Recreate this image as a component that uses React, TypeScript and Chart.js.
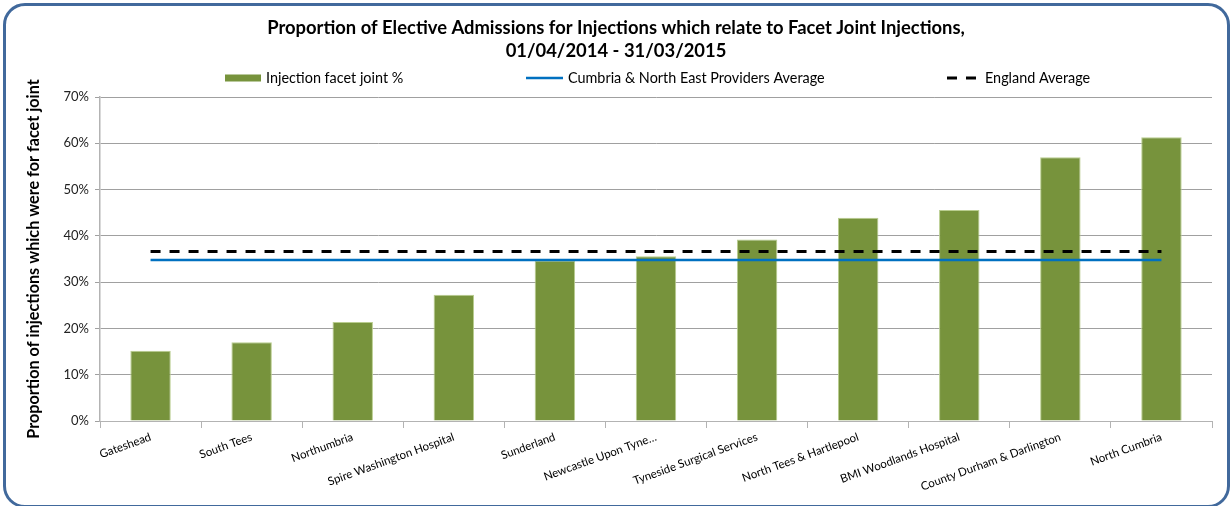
import { useEffect, useRef } from 'react';
import { Chart, registerables } from 'chart.js';

Chart.register(...registerables);

// ---- data ----
const categories = [
  'Gateshead',
  'South Tees',
  'Northumbria',
  'Spire Washington Hospital',
  'Sunderland',
  'Newcastle Upon Tyne…',
  'Tyneside Surgical Services',
  'North Tees & Hartlepool',
  'BMI Woodlands Hospital',
  'County Durham & Darlington',
  'North Cumbria',
];
const facetJointPct = [15.2, 17.0, 21.4, 27.3, 34.7, 35.6, 39.2, 43.9, 45.6, 57.0, 61.3];
const cneProvidersAverage = 34.8;
const englandAverage = 36.6;
const yTickValues = [0, 10, 20, 30, 40, 50, 60, 70];

const titleLines = [
  'Proportion of Elective Admissions for Injections which relate to Facet Joint Injections,',
  '01/04/2014 - 31/03/2015',
];
const seriesLabels = [
  'Injection facet joint %',
  'Cumbria & North East Providers Average',
  'England Average',
];
const yAxisTitle = 'Proportion of injections which were for facet joint';

// ---- styles ----
const FONT = 'Lato, "Open Sans", sans-serif';
const BAR_COLOR = '#77933C';
const BAR_EDGE = '#b9cd8f';
const BLUE = '#0070C0';
const GRID = '#a0a0a0';
const AXIS = '#b3b3b3';
const LEGEND_Y = 78;
const LEGEND_X = [225, 526, 947];
const LEGEND_W = [36, 37, 33];

const legendPlugin = {
  id: 'excelLegend',
  afterDraw(chart: any) {
    const ctx = chart.ctx as CanvasRenderingContext2D;
    const ds = chart.data.datasets;
    ctx.save();
    ctx.font = `14.4px ${FONT}`;
    ctx.textBaseline = 'middle';
    ctx.fillStyle = '#000';
    ds.forEach((d: any, i: number) => {
      const x = LEGEND_X[i];
      const w = LEGEND_W[i];
      if ((d.type || 'bar') === 'bar') {
        ctx.fillStyle = d.backgroundColor;
        ctx.fillRect(x, LEGEND_Y - 3.5, w, 7);
      } else {
        ctx.beginPath();
        ctx.strokeStyle = d.borderColor;
        ctx.lineWidth = d.borderWidth;
        ctx.setLineDash(d.borderDash || []);
        ctx.moveTo(x, LEGEND_Y);
        ctx.lineTo(x + w, LEGEND_Y);
        ctx.stroke();
        ctx.setLineDash([]);
      }
      ctx.fillStyle = '#000';
      ctx.fillText(d.label, x + w + 5, LEGEND_Y + 0.5);
    });
    ctx.restore();
  },
};

export default function App() {
  const canvasRef = useRef<HTMLCanvasElement | null>(null);

  useEffect(() => {
    if (!canvasRef.current) return;
    const chart = new Chart(canvasRef.current, {
      type: 'bar',
      data: {
        labels: categories,
        datasets: [
          {
            type: 'bar',
            label: seriesLabels[0],
            data: facetJointPct,
            backgroundColor: BAR_COLOR,
            borderColor: BAR_EDGE,
            borderWidth: 1,
            barPercentage: 0.8,
            categoryPercentage: 0.5,
            order: 3,
          },
          {
            type: 'line',
            label: seriesLabels[1],
            data: categories.map(() => cneProvidersAverage),
            borderColor: BLUE,
            backgroundColor: BLUE,
            borderWidth: 2.5,
            pointRadius: 0,
            fill: false,
            order: 2,
          },
          {
            type: 'line',
            label: seriesLabels[2],
            data: categories.map(() => englandAverage),
            borderColor: '#000000',
            backgroundColor: '#000000',
            borderWidth: 3,
            borderDash: [10, 9],
            pointRadius: 0,
            fill: false,
            order: 1,
          },
        ] as any,
      },
      options: {
        animation: false,
        responsive: true,
        maintainAspectRatio: false,
        layout: { padding: { left: 0, right: 0, top: 0, bottom: 0 } },
        plugins: {
          legend: { display: false },
          tooltip: { enabled: false },
          title: {
            display: true,
            text: titleLines,
            color: '#000',
            font: { family: FONT, size: 18.4, weight: 'bold', lineHeight: 1.25 },
            padding: { top: 16.5, bottom: 34.5 },
          },
        },
        scales: {
          x: {
            offset: true,
            grid: {
              display: true,
              offset: true,
              drawOnChartArea: false,
              drawTicks: true,
              tickLength: 7,
              color: AXIS,
            },
            border: { display: true, color: AXIS, width: 1 },
            ticks: {
              autoSkip: false,
              minRotation: 20,
              maxRotation: 20,
              color: '#000',
              padding: 2,
              font: { family: FONT, size: 11.5 },
            },
            afterFit: (s: any) => {
              s.height = 85;
            },
          },
          y: {
            min: 0,
            max: 70,
            afterBuildTicks: (s: any) => {
              s.ticks = yTickValues.map((v) => ({ value: v }));
            },
            ticks: {
              stepSize: 10,
              color: '#222',
              padding: 6,
              font: { family: FONT, size: 13 },
              callback: (v: any) => `${v}%`,
            },
            grid: { color: GRID, lineWidth: 1, tickLength: 5 },
            border: { display: true, color: AXIS, width: 1.5 },
            title: {
              display: true,
              text: yAxisTitle,
              color: '#000',
              font: { family: FONT, size: 16.2, weight: 'bold' },
              padding: { top: 24, bottom: 0 },
            },
            afterFit: (s: any) => {
              s.width = 100;
            },
          },
          yRightSpace: {
            type: 'linear',
            position: 'right',
            display: true,
            min: 0,
            max: 70,
            grid: { display: false, drawTicks: false },
            border: { display: false },
            ticks: { display: false },
            afterFit: (s: any) => {
              s.width = 20;
            },
          },
        },
      } as any,
      plugins: [legendPlugin],
    });
    return () => chart.destroy();
  }, []);

  return (
    <div
      style={{
        position: 'fixed',
        left: 0,
        top: 0,
        width: 1232,
        height: 506,
        background: '#fff',
        overflow: 'hidden',
      }}
    >
      <canvas ref={canvasRef} style={{ width: '100%', height: '100%' }} />
      <div
        style={{
          position: 'absolute',
          left: 3,
          top: 3,
          width: 1227,
          height: 505,
          boxSizing: 'border-box',
          border: '3px solid #41699c',
          borderRadius: 22,
          pointerEvents: 'none',
        }}
      />
    </div>
  );
}
